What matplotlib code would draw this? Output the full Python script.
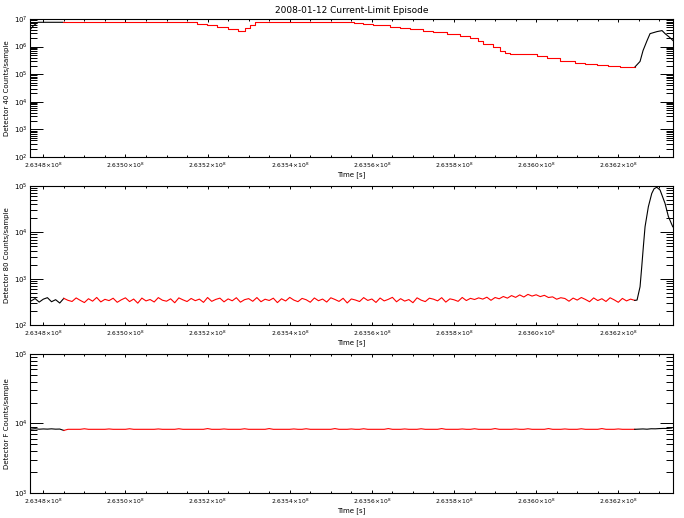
import numpy as np
import matplotlib
matplotlib.use("Agg")
import matplotlib.pyplot as plt
from matplotlib.ticker import LogLocator, MultipleLocator, FuncFormatter, NullFormatter

plt.rcParams['font.family'] = ['DejaVu Sans']
plt.rcParams['mathtext.default'] = 'regular'

t0 = 263480000  # seconds
xmin, xmax = -3239, 153319  # offsets from t0

# Detector 40 (steppy, saturated at top)
det40_lead_t = [-2995, -2508, -2021, -1291, 4797]
det40_lead_c = [4.5e6, 5.5e6, 6.3e6, 7.6e6, 7.6e6]
det40_red_t = [4797, 35721, 37426, 39861, 42296, 44974, 47410, 49114, 50332, 51549,
               75168, 75655, 77847, 80282, 84421, 86856, 89291, 92457, 94892, 98301,
               101466, 103901, 105849, 107067, 109502, 111206, 112424, 113641, 118024,
               120216, 122651, 125816, 129469, 131904, 134826, 137505, 140426, 144079]
det40_red_c = [7.6e6, 7.6e6, 6.8e6, 5.9e6, 5.1e6, 4.5e6, 3.8e6, 4.8e6, 6.0e6, 7.6e6,
               7.6e6, 7.0e6, 6.6e6, 6.1e6, 5.3e6, 4.75e6, 4.35e6, 3.8e6, 3.4e6, 2.95e6,
               2.5e6, 2.0e6, 1.55e6, 1.28e6, 9.4e5, 7.2e5, 6.1e5, 5.6e5, 5.6e5,
               4.7e5, 4.0e5, 3.1e5, 2.65e5, 2.4e5, 2.24e5, 2.0e5, 1.85e5, 1.85e5]
det40_tail_t = [144079, 145297, 146027, 147001, 147732, 149436, 150654, 151385, 152602, 153319]
det40_tail_c = [1.85e5, 2.9e5, 7.2e5, 1.65e6, 2.95e6, 3.5e6, 3.8e6, 2.95e6, 2.1e6, 1.65e6]

# Detector 80: 1000 s samples from -3000 to 144000, then the rise
det80_step = 1000
det80_start = -3000
det80_counts = [330, 372, 312, 361, 389, 318, 352, 298, 376, 341,
                322, 384, 340, 305, 369, 327, 393, 315, 358, 336,
                378, 309, 350, 386, 320, 363, 296, 381, 331, 355,
                314, 390, 343, 326, 367, 302, 385, 349, 321, 374,
                335, 362, 308, 392, 324, 357, 380, 316, 366, 333,
                388, 311, 352, 371, 325, 391, 318, 360, 338, 379,
                304, 368, 330, 394, 345, 319, 375, 351, 310, 383,
                334, 363, 313, 387, 356, 323, 377, 299, 365, 346,
                321, 390, 339, 364, 307, 382, 331, 358, 395, 317,
                370, 328, 354, 303, 386, 344, 320, 379, 361, 332,
                389, 312, 367, 350, 324, 393, 337, 376, 355, 385,
                362, 398, 341, 392, 368, 412, 380, 431, 395, 446,
                402, 458, 421, 449, 410, 437, 392, 405, 360, 388,
                373, 326, 381, 345, 392, 356, 318, 384, 337, 369,
                322, 387, 349, 309, 375, 331, 362, 340]
det80_rise_t = [144566, 145297, 145711, 146100, 146514, 147318, 148145, 148705,
                149363, 150166, 151384, 152188, 153259]
det80_rise_c = [345, 670, 1820, 4900, 1.32e4, 3.57e4, 6.9e4, 8.7e4,
                9.4e4, 8.2e4, 4.2e4, 2.2e4, 1.32e4]

# Detector F: 1000 s samples from -3000 to 153000
detF_counts = [8300, 8420, 8280, 8350, 8300, 8380, 8290, 8320, 7950, 8250,
               8250, 8250, 8250, 8400, 8250, 8250, 8250, 8250, 8250, 8350,
               8250, 8250, 8250, 8250, 8400, 8250, 8250, 8250, 8250, 8250,
               8250, 8350, 8250, 8250, 8250, 8250, 8400, 8250, 8250, 8250,
               8250, 8250, 8250, 8450, 8250, 8250, 8250, 8350, 8250, 8250,
               8250, 8250, 8400, 8250, 8250, 8250, 8250, 8250, 8450, 8250,
               8250, 8250, 8250, 8250, 8350, 8250, 8250, 8400, 8250, 8250,
               8250, 8250, 8250, 8250, 8450, 8250, 8250, 8250, 8350, 8250,
               8250, 8400, 8250, 8250, 8250, 8250, 8250, 8450, 8250, 8250,
               8250, 8350, 8250, 8250, 8250, 8400, 8250, 8250, 8250, 8250,
               8450, 8250, 8250, 8250, 8250, 8350, 8250, 8250, 8400, 8250,
               8250, 8250, 8250, 8450, 8250, 8250, 8250, 8250, 8350, 8250,
               8250, 8400, 8250, 8250, 8250, 8250, 8450, 8250, 8250, 8250,
               8350, 8250, 8250, 8250, 8400, 8250, 8250, 8250, 8250, 8450,
               8250, 8250, 8250, 8350, 8250, 8250, 8250, 8250, 8300, 8350,
               8280, 8400, 8380, 8450, 8500, 8480, 8600]
red_first = 8  # index where red segment starts (offset 5000 s)
red_last = 147  # index where red segment ends (offset 144000 s)

titles_y = ["Detector 40 Counts/sample", "Detector 80 Counts/sample", "Detector F Counts/sample"]
ylims = [(1e2, 1e7), (1e2, 1e5), (1e3, 1e5)]

fig = plt.figure(figsize=(6.84, 5.18), dpi=100)
W, H = 684.0, 518.0
boxes = [(30, 19, 673, 157), (30, 186, 673, 325), (30, 354, 673, 493)]
axes = []
for (l, t, r, b) in boxes:
    axes.append(fig.add_axes([l / W, 1 - b / H, (r - l) / W, (b - t) / H]))

lw = 0.8
ax = axes[0]
ax.plot(t0 + np.array(det40_lead_t), det40_lead_c, color='black', lw=lw)
ax.plot(t0 + np.array(det40_red_t), det40_red_c, color='red', lw=lw, drawstyle='steps-post')
ax.plot(t0 + np.array(det40_tail_t), det40_tail_c, color='black', lw=lw)

# black only outside the red stretch, so the red is not darkened
ax = axes[1]
t80 = t0 + det80_start + det80_step * np.arange(len(det80_counts))
c80 = np.array(det80_counts, dtype=float)
ax.plot(t80[:red_first + 1], c80[:red_first + 1], color='black', lw=lw)
ax.plot(t80[red_first:red_last + 1], c80[red_first:red_last + 1], color='red', lw=lw)
ax.plot(np.concatenate([t80[red_last:], t0 + np.array(det80_rise_t)]),
        np.concatenate([c80[red_last:], det80_rise_c]), color='black', lw=lw)

ax = axes[2]
tF = t0 + det80_start + det80_step * np.arange(len(detF_counts))
cF = np.array(detF_counts, dtype=float)
ax.plot(tF[:red_first + 1], cF[:red_first + 1], color='black', lw=lw)
ax.plot(tF[red_first:red_last + 1], cF[red_first:red_last + 1], color='red', lw=lw)
ax.plot(tF[red_last:], cF[red_last:], color='black', lw=lw)

xfmt = FuncFormatter(lambda v, p: r'$%.4f\!\times\!10^{8}$' % (v / 1e8))
for ax, yl, lim in zip(axes, titles_y, ylims):
    ax.set_yscale('log')
    ax.set_ylim(*lim)
    ax.set_xlim(t0 + xmin, t0 + xmax)
    ax.xaxis.set_major_locator(MultipleLocator(20000))
    ax.xaxis.set_minor_locator(MultipleLocator(5000))
    ax.xaxis.set_major_formatter(xfmt)
    ax.yaxis.set_major_locator(LogLocator(base=10, numticks=10))
    ax.yaxis.set_minor_locator(LogLocator(base=10, subs=np.arange(2, 10), numticks=20))
    ax.yaxis.set_minor_formatter(NullFormatter())
    ax.tick_params(which='both', direction='in', top=True, right=True, labelsize=5, width=0.7)
    ax.tick_params(axis='x', which='major', length=2.4, pad=2.5, labelsize=4.3)
    ax.tick_params(axis='x', which='minor', length=1.6)
    ax.tick_params(axis='y', which='major', length=9.4, pad=1.5)
    ax.tick_params(axis='y', which='minor', length=4.7)
    for s in ax.spines.values():
        s.set_linewidth(0.8)
    ax.set_ylabel(yl, fontsize=5, labelpad=3)
    ax.set_xlabel("Time [s]", fontsize=5, labelpad=1)

axes[0].set_title("2008-01-12 Current-Limit Episode", fontsize=6.5, pad=4)

fig.savefig("out.png", dpi=100)
